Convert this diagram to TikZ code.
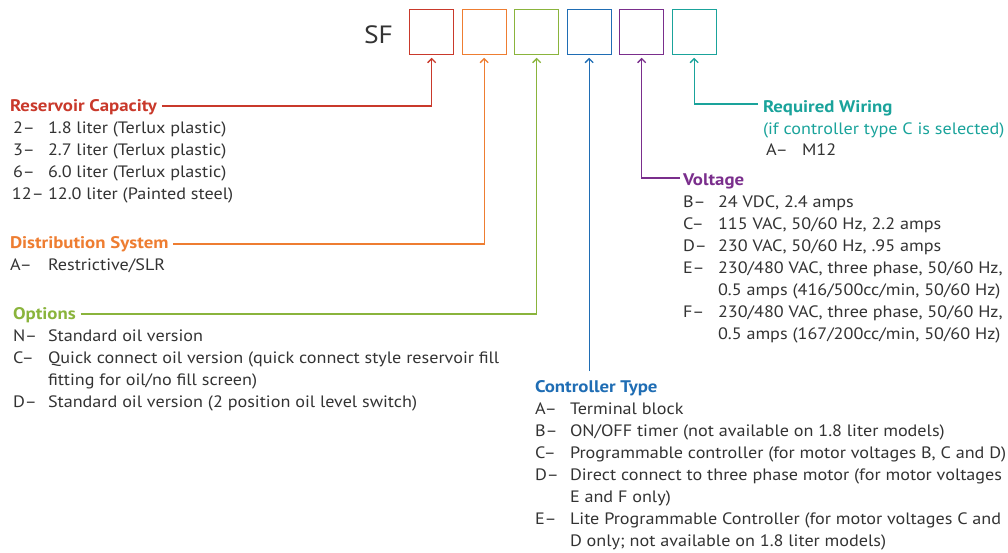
\documentclass[tikz,border=0pt]{standalone}
\usepackage{fontspec}
\setmainfont{PT Sans}[FakeStretch=1.1,BoldFeatures={FakeStretch=1.12}]
\usetikzlibrary{arrows.meta,calc}
\definecolor{cRed}{HTML}{C9392B}
\definecolor{cOra}{HTML}{EE7D31}
\definecolor{cGre}{HTML}{8AB43C}
\definecolor{cBlu}{HTML}{1F6DB4}
\definecolor{cPur}{HTML}{7A2E8C}
\definecolor{cTea}{HTML}{1AA39B}
\definecolor{cTxt}{HTML}{333333}
\tikzset{
  x=1pt,y=-1pt,
  txt/.style={anchor=base west,inner sep=0pt,outer sep=0pt,text=cTxt,font=\fontsize{16.5}{18}\selectfont},
  hdr/.style={txt,font=\fontsize{16.8}{18}\selectfont\bfseries},
  box/.style={draw,line width=1.3pt,minimum width=44pt,minimum height=45pt,inner sep=0pt,anchor=north west},
  arr/.style={line width=1.3pt,-{Straight Barb[length=4pt,width=8pt,line width=1.3pt]},shorten >=2.5pt}
}
\begin{document}
\begin{tikzpicture}
\useasboundingbox (0,0) rectangle (1008,552);
% code boxes
\node[txt,font=\fontsize{25}{28}\selectfont] (sf) at (364,43) {SF};
\node[box,draw=cRed] (b1) at (409,9) {};
\node[box,draw=cOra] (b2) at (461.5,9) {};
\node[box,draw=cGre] (b3) at (514,9) {};
\node[box,draw=cBlu] (b4) at (566.5,9) {};
\node[box,draw=cPur] (b5) at (619,9) {};
\node[box,draw=cTea] (b6) at (671.5,9) {};

% Reservoir Capacity
\node[hdr,text=cRed] (rh) at (10,111) {Reservoir Capacity};
\node[txt] (r1l) at (13,133) {2–};  \node[txt] (r1v) at (48,133) {1.8 liter (Terlux plastic)};
\node[txt] (r2l) at (13,155) {3–};  \node[txt] (r2v) at (48,155) {2.7 liter (Terlux plastic)};
\node[txt] (r3l) at (13,177) {6–};  \node[txt] (r3v) at (48,177) {6.0 liter (Terlux plastic)};
\node[txt] (r4l) at (12,199) {12–}; \node[txt] (r4v) at (48,199) {12.0 liter (Painted steel)};

% Distribution System
\node[hdr,text=cOra] (dh) at (10,248) {Distribution System};
\node[txt] (d1l) at (10,270) {A–}; \node[txt] (d1v) at (48,270) {Restrictive/SLR};

% Options
\node[hdr,text=cGre] (oh) at (13,319) {Options};
\node[txt] (o1l) at (13,341) {N–}; \node[txt] (o1v) at (48,341) {Standard oil version};
\node[txt] (o2l) at (13,363) {C–}; \node[txt] (o2v) at (48,363) {Quick connect oil version (quick connect style reservoir fill};
\node[txt] (o3v) at (48,385) {fitting for oil/no fill screen)};
\node[txt] (o4l) at (13,407) {D–}; \node[txt] (o4v) at (48,407) {Standard oil version (2 position oil level switch)};

% Controller Type
\node[hdr,text=cBlu] (ch) at (535,392) {Controller Type};
\node[txt] (c1l) at (535,414) {A–}; \node[txt] (c1v) at (570,414) {Terminal block};
\node[txt] (c2l) at (535,436) {B–}; \node[txt] (c2v) at (570,436) {ON/OFF timer (not available on 1.8 liter models)};
\node[txt] (c3l) at (535,458) {C–}; \node[txt] (c3v) at (570,458) {Programmable controller (for motor voltages B, C and D)};
\node[txt] (c4l) at (535,480) {D–}; \node[txt] (c4v) at (570,480) {Direct connect to three phase motor (for motor voltages};
\node[txt] (c5v) at (570,502) {E and F only)};
\node[txt] (c6l) at (535,524) {E–}; \node[txt] (c6v) at (570,524) {Lite Programmable Controller (for motor voltages C and};
\node[txt] (c7v) at (570,546) {D only; not available on 1.8 liter models)};

% Voltage
\node[hdr,text=cPur] (vh) at (683,185) {Voltage};
\node[txt] (v1l) at (683,207) {B–}; \node[txt] (v1v) at (718,207) {24 VDC, 2.4 amps};
\node[txt] (v2l) at (683,229) {C–}; \node[txt] (v2v) at (718,229) {115 VAC, 50/60 Hz, 2.2 amps};
\node[txt] (v3l) at (683,251) {D–}; \node[txt] (v3v) at (718,251) {230 VAC, 50/60 Hz, .95 amps};
\node[txt] (v4l) at (683,273) {E–}; \node[txt] (v4v) at (718,273) {230/480 VAC, three phase, 50/60 Hz,};
\node[txt] (v5v) at (718,295) {0.5 amps (416/500cc/min, 50/60 Hz)};
\node[txt] (v6l) at (683,317) {F–}; \node[txt] (v6v) at (718,317) {230/480 VAC, three phase, 50/60 Hz,};
\node[txt] (v7v) at (718,339) {0.5 amps (167/200cc/min, 50/60 Hz)};

% Required Wiring
\node[hdr,text=cTea] (wh) at (763,112) {Required Wiring};
\node[txt,text=cTea] (w1) at (763,134) {(if controller type C is selected)};
\node[txt] (w2l) at (766,155) {A–}; \node[txt] (w2v) at (802,155) {M12};

% connectors
\draw[arr,cRed] ($(rh.base east)+(5pt,5pt)$) -| (b1.south);
\draw[arr,cOra] ($(dh.base east)+(5pt,4pt)$) -| (b2.south);
\draw[arr,cGre] ($(oh.base east)+(5pt,5pt)$) -| (b3.south);
\coordinate (cend) at ($(b4.south |- ch.north)+(0,9pt)$);
\draw[arr,cBlu] (cend) -- (b4.south);
\draw[arr,cPur] ($(vh.base west)+(-3pt,7pt)$) -| (b5.south);
\draw[arr,cTea] ($(wh.base west)+(-5pt,8pt)$) -| (b6.south);
\end{tikzpicture}
\end{document}
